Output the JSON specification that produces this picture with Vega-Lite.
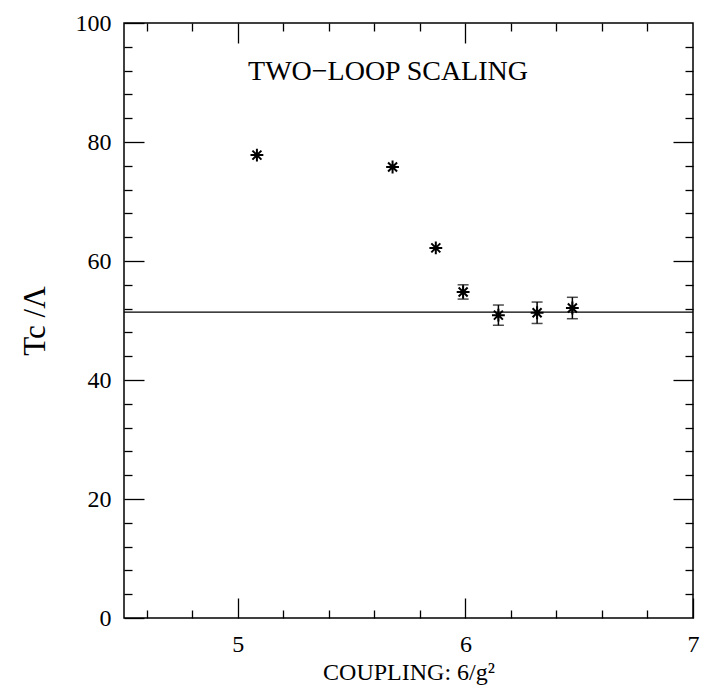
{
  "$schema": "https://vega.github.io/schema/vega-lite/v6.json",
  "width": 569,
  "height": 595,
  "padding": {"left": 124, "top": 23, "right": 10, "bottom": 72},
  "autosize": {"type": "none"},
  "background": "white",
  "config": {
    "view": {"stroke": "black", "strokeWidth": 1.5},
    "font": "Liberation Serif",
    "axis": {"grid": false, "domain": false, "tickColor": "black", "tickWidth": 1.3, "labelColor": "black", "labelFont": "Liberation Serif", "titleFont": "Liberation Serif", "titleColor": "black", "titleFontWeight": "normal", "labelFontSize": 24, "titleFontSize": 24}
  },
  "datasets": {
    "pts": [
      {"g": 5.084, "t": 77.8},
      {"g": 5.68, "t": 75.8},
      {"g": 5.87, "t": 62.2},
      {"g": 5.99, "t": 54.8},
      {"g": 6.145, "t": 50.9},
      {"g": 6.315, "t": 51.3},
      {"g": 6.47, "t": 52.1}
    ],
    "errs": [
      {"g": 5.99, "lo": 53.6, "hi": 56.0},
      {"g": 6.145, "lo": 49.2, "hi": 52.6},
      {"g": 6.315, "lo": 49.5, "hi": 53.1},
      {"g": 6.47, "lo": 50.3, "hi": 53.9}
    ],
    "fit": [{"g0": 4.5, "g1": 7, "t": 51.4}],
    "lbl": [{"g": 5.66, "t": 91.8, "text": "TWO−LOOP SCALING"}]
  },
  "resolve": {"axis": {"x": "independent", "y": "independent"}},
  "layer": [
    {
      "data": {"name": "pts"},
      "mark": {"type": "point", "shape": "M-1,0L1,0M0,-1L0,1M-0.7,-0.7L0.7,0.7M-0.7,0.7L0.7,-0.7", "filled": false, "stroke": "black", "strokeWidth": 2, "size": 165, "opacity": 1},
      "encoding": {
        "x": {"field": "g", "type": "quantitative", "scale": {"domain": [4.5, 7], "nice": false, "zero": false},
          "axis": {"orient": "bottom", "values": [5, 6, 7], "tickSize": -20, "labelPadding": 34, "title": "COUPLING: 6/g²", "titlePadding": 4, "titleColor": "#000000", "labelFlush": false}},
        "y": {"field": "t", "type": "quantitative", "scale": {"domain": [0, 100], "nice": false, "zero": false},
          "axis": {"orient": "left", "values": [0, 20, 40, 60, 80, 100], "tickSize": -20, "labelPadding": 33, "title": "Tc  /Λ", "titleColor": "#000000", "titleFontSize": 31, "titlePadding": 24}}
      }
    },
    {
      "data": {"name": "errs"},
      "mark": {"type": "errorbar", "ticks": {"size": 11, "color": "black", "thickness": 1.5}, "rule": {"color": "black", "strokeWidth": 1.5}},
      "encoding": {
        "x": {"field": "g", "type": "quantitative", "scale": {"domain": [4.5, 7], "nice": false, "zero": false},
          "axis": {"orient": "bottom", "values": [4.6, 4.8, 5.2, 5.4, 5.6, 5.8, 6.2, 6.4, 6.6, 6.8], "tickSize": -8, "labels": false, "title": null}},
        "y": {"field": "lo", "type": "quantitative", "scale": {"domain": [0, 100], "nice": false, "zero": false},
          "axis": {"orient": "left", "values": [4, 8, 12, 16, 24, 28, 32, 36, 44, 48, 52, 56, 64, 68, 72, 76, 84, 88, 92, 96], "tickSize": -8, "labels": false, "title": null}},
        "y2": {"field": "hi"}
      }
    },
    {
      "data": {"name": "fit"},
      "mark": {"type": "rule", "color": "black", "strokeWidth": 1.4},
      "encoding": {
        "x": {"field": "g0", "type": "quantitative", "scale": {"domain": [4.5, 7], "nice": false, "zero": false},
          "axis": {"orient": "top", "values": [5, 6], "tickSize": -20, "labels": false, "title": null}},
        "x2": {"field": "g1"},
        "y": {"field": "t", "type": "quantitative", "scale": {"domain": [0, 100], "nice": false, "zero": false},
          "axis": {"orient": "right", "values": [20, 40, 60, 80], "tickSize": -20, "labels": false, "title": null}}
      }
    },
    {
      "data": {"name": "lbl"},
      "mark": {"type": "text", "font": "Liberation Serif", "fontSize": 28, "color": "black", "align": "center", "baseline": "middle"},
      "encoding": {
        "x": {"field": "g", "type": "quantitative", "scale": {"domain": [4.5, 7], "nice": false, "zero": false},
          "axis": {"orient": "top", "values": [4.6, 4.8, 5.2, 5.4, 5.6, 5.8, 6.2, 6.4, 6.6, 6.8], "tickSize": -8, "labels": false, "title": null}},
        "y": {"field": "t", "type": "quantitative", "scale": {"domain": [0, 100], "nice": false, "zero": false},
          "axis": {"orient": "right", "values": [4, 8, 12, 16, 24, 28, 32, 36, 44, 48, 52, 56, 64, 68, 72, 76, 84, 88, 92, 96], "tickSize": -8, "labels": false, "title": null}},
        "text": {"field": "text"}
      }
    }
  ]
}
